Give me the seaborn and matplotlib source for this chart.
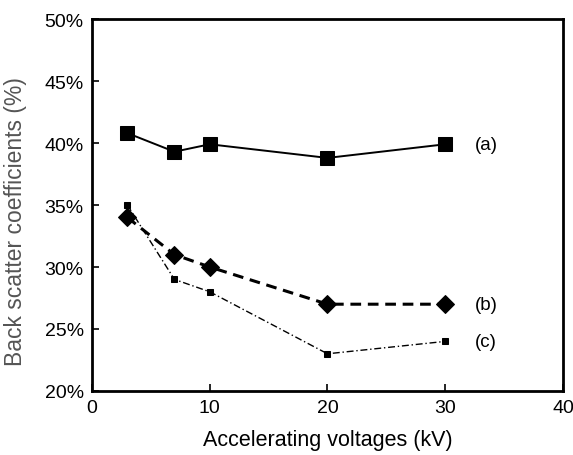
import matplotlib
matplotlib.use("Agg")
import matplotlib.pyplot as plt
import matplotlib.ticker as mticker
import pandas as pd
import seaborn as sns

# ─── Data ─────────────────────────────────────────────────────────────────────
voltages = [3, 7, 10, 20, 30]
series_a = [40.8, 39.3, 39.9, 38.8, 39.9]
series_b = [34.0, 31.0, 30.0, 27.0, 27.0]
series_c = [35.0, 29.0, 28.0, 23.0, 24.0]
labels = ["(a)", "(b)", "(c)"]

df = pd.DataFrame({
    "kV": voltages * 3,
    "coef": series_a + series_b + series_c,
    "series": [labels[0]] * 5 + [labels[1]] * 5 + [labels[2]] * 5,
})

sns.set_theme(style="ticks")
plt.rcParams["font.family"] = ["Liberation Sans", "DejaVu Sans"]

fig = plt.figure(figsize=(5.73, 4.56), dpi=100)
ax = fig.add_axes([0.1606, 0.1404, 0.8219, 0.8156])

styles = {
    "(a)": dict(linestyle="-", marker="s", markersize=10.5, linewidth=1.4),
    "(b)": dict(linestyle=(0, (3.5, 2.2)), marker="D", markersize=9.5, linewidth=2.2),
    "(c)": dict(linestyle=(0, (5, 2, 1, 2)), marker="s", markersize=4, linewidth=1.0),
}
for lab in labels:
    sub = df[df["series"] == lab]
    sns.lineplot(data=sub, x="kV", y="coef", ax=ax, color="black",
                 markeredgecolor="black", legend=False, **styles[lab])
    ax.text(sub["kV"].iloc[-1] + 2.5, sub["coef"].iloc[-1], lab,
            fontsize=13.5, va="center", ha="left", color="black")

ax.set_xlim(0, 40)
ax.set_ylim(20, 50)
ax.set_xticks([0, 10, 20, 30, 40])
ax.set_yticks([20, 25, 30, 35, 40, 45, 50])
ax.yaxis.set_major_formatter(mticker.FuncFormatter(lambda v, _: f"{v:.0f}%"))
ax.tick_params(direction="in", length=5, width=1.2, labelsize=14, colors="black", pad=6)
for sp in ax.spines.values():
    sp.set_linewidth(2.0)
    sp.set_color("black")

ax.set_xlabel("Accelerating voltages (kV)", fontsize=15.5, color="black", labelpad=9)
ax.set_ylabel("Back scatter coefficients (%)", fontsize=16.5, color="#555555")
ax.yaxis.set_label_coords(-0.138, 0.457)

fig.savefig("out.png", dpi=100)
